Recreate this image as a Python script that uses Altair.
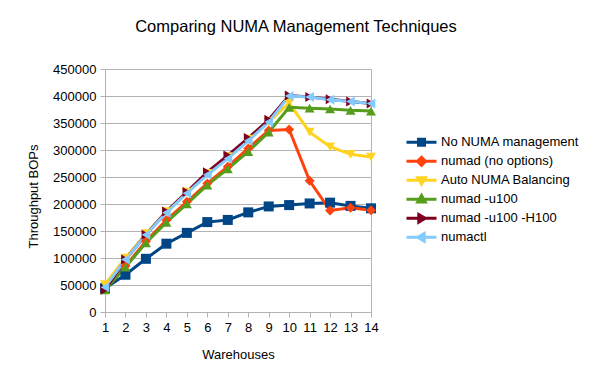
import altair as alt
import pandas as pd

warehouses = list(range(1, 15))
series_names = [
    "No NUMA management",
    "numad (no options)",
    "Auto NUMA Balancing",
    "numad -u100",
    "numad -u100 -H100",
    "numactl",
]
no_numa = [44000, 69000, 98500, 126500, 146500, 166500, 170500, 184500, 195500, 198000, 201000, 202500, 196500, 192000]
numad_noopt = [44000, 85000, 131000, 170000, 204000, 238000, 269000, 303000, 336000, 338000, 243000, 188000, 193000, 188500]
auto_numa = [51000, 100000, 145000, 186000, 222000, 257000, 288000, 320000, 352000, 387000, 333000, 306000, 292000, 287000]
numad_u100 = [41000, 83000, 128000, 166000, 200000, 235000, 265000, 297000, 333000, 379000, 377500, 376000, 373500, 372000]
numad_u100_h100 = [41000, 97000, 143000, 186000, 222000, 259000, 290000, 322000, 356000, 401000, 398000, 394000, 390000, 386000]
numactl = [46000, 97000, 143000, 184000, 220000, 254000, 284000, 317000, 352000, 400000, 398000, 393000, 390000, 386000]

colors = ["#004586", "#ff420e", "#ffd320", "#579d1c", "#7e0021", "#83caff"]
shapes = ["square", "diamond", "triangle-down", "triangle-up", "triangle-right", "triangle-left"]
legend_paths = [
    "M-1,0H1M-0.2,-0.2H0.2V0.2H-0.2Z",
    "M-1,0H1M0,-0.27L0.27,0L0,0.27L-0.27,0Z",
    "M-1,0H1M-0.25,-0.18H0.25L0,0.25Z",
    "M-1,0H1M-0.25,0.18H0.25L0,-0.25Z",
    "M-1,0H1M-0.18,-0.25V0.25L0.25,0Z",
    "M-1,0H1M0.18,-0.25V0.25L-0.25,0Z",
]
marker_keys = [f"m{i}" for i in range(len(series_names))]

all_values = [no_numa, numad_noopt, auto_numa, numad_u100, numad_u100_h100, numactl]
rows = []
for i, (name, vals) in enumerate(zip(series_names, all_values)):
    for w, v in zip(warehouses, vals):
        rows.append({"Warehouses": w, "BOPs": v, "series": name,
                     "marker": marker_keys[i], "order": i})
df = pd.DataFrame(rows)

shape_expr = "'M-1,0H1'"
for name, p in reversed(list(zip(series_names, legend_paths))):
    shape_expr = f"datum.value === '{name}' ? '{p}' : " + shape_expr

color_scale = alt.Scale(domain=series_names, range=colors)
shape_scale = alt.Scale(domain=marker_keys, range=shapes)

legend = alt.Legend(
    title=None, orient="none", legendX=300, legendY=64,
    symbolSize=900, clipHeight=18.7, rowPadding=0, padding=0,
    labelFontSize=13, labelOffset=3, labelColor="#000000",
    labelFont="Liberation Sans",
    symbolType=alt.ExprRef(expr=shape_expr),
    symbolStrokeColor=alt.ExprRef(expr="scale('color', datum.value)"),
    symbolFillColor=alt.ExprRef(expr="scale('color', datum.value)"),
    symbolStrokeWidth=3,
    symbolOpacity=1,
)

x_enc = alt.X(
    "Warehouses:Q",
    scale=alt.Scale(domain=[1, 14], nice=False, zero=False),
    axis=alt.Axis(
        values=warehouses, format="d", grid=False, tickSize=5,
        labelOverlap=False, labelFlush=False,
        title="Warehouses", titleX=133, titleY=42, titleBaseline="middle",
        titleFontWeight="normal", titleFontSize=13, labelPadding=4,
    ),
)
y_enc = alt.Y(
    "BOPs:Q",
    scale=alt.Scale(domain=[0, 450000], nice=False),
    axis=alt.Axis(
        values=list(range(0, 450001, 50000)), format="d", tickSize=5,
        labelOverlap=False, labelFlush=False,
        title="Throughput BOPs", titleX=-72, titleY=127, titleAngle=-90,
        titleBaseline="middle", titleAlign="center",
        titleFontWeight="normal", titleFontSize=13, labelPadding=4,
    ),
)

base = alt.Chart(df)
lines = base.mark_line(strokeWidth=3).encode(
    x=x_enc, y=y_enc,
    color=alt.Color("series:N", scale=color_scale, legend=legend),
    detail="series:N",
    order="order:Q",
)
points = base.mark_point(filled=True, size=100, opacity=1).encode(
    x=x_enc, y=y_enc,
    color=alt.Color("series:N", scale=color_scale, legend=legend),
    shape=alt.Shape("marker:N", scale=shape_scale, legend=None),
    order="order:Q",
)

chart = (
    alt.layer(lines, points)
    .properties(
        width=266, height=243,
        autosize=alt.AutoSizeParams(type="none"),
        padding={"left": 97, "top": 61, "right": 225, "bottom": 51},
        title=alt.Title(
            "Comparing NUMA Management Techniques", fontSize=16.5,
            fontWeight="normal", font="Liberation Sans", color="#000000",
            frame="group", offset=28, dx=58, anchor="middle",
        ),
        background="white",
    )
    .configure_view(stroke="#b3b3b3", strokeWidth=1)
    .configure_axis(
        domainColor="#b3b3b3", tickColor="#b3b3b3", gridColor="#b3b3b3",
        labelFont="Liberation Sans", titleFont="Liberation Sans",
        labelFontSize=13, labelColor="#000000", titleColor="#000000",
        gridWidth=1, domainWidth=1, tickWidth=1,
    )
)

chart.save("out.html", embed_options={"renderer": "svg", "actions": False})
